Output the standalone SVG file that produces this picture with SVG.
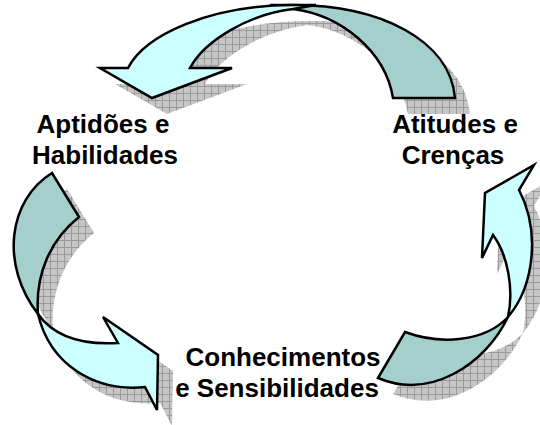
<svg xmlns="http://www.w3.org/2000/svg" width="540" height="425" viewBox="0 0 540 425">
<defs>
<pattern id="hatch" width="7" height="7" patternUnits="userSpaceOnUse">
<rect width="7" height="7" fill="#c6c6c6"/>
<path d="M0,0.5H7M0.5,0V7" stroke="#9a9a9a" stroke-width="1"/>
</pattern>
<style>
.sh{fill:url(#hatch);stroke:none}
.lb{fill:#ccffff;stroke:#000;stroke-width:2.5;stroke-linejoin:miter}
.tl{fill:#a5cfcd;stroke:#000;stroke-width:2.5;stroke-linejoin:miter}
.lbl{font-family:"Liberation Sans",Arial,sans-serif;font-weight:bold;font-size:26px;fill:#000;text-anchor:middle}
</style>
</defs>
<rect width="540" height="425" fill="#fff"/>
<g id="shadows" transform="translate(15,16)">
<path class="sh" d="M293,9 C340,15 385,50 393,98 L455,98 C450,40 380,5 293,5 Z"/>
<path class="sh" d="M316,5 L293,9 C250,14 205,40 190,68 L232,68 L152,98 L100,68 L128,68 C145,35 210,5 293,5 Z"/>
<path class="sh" d="M38,314 C0,265 8,200 52,173 L79,217 C50,240 35,275 38,314 Z"/>
<path class="sh" d="M38,314 C55,338 85,345 118,343 L103,317 L158,355 L157,410 L145,387 C95,392 50,365 38,314 Z"/>
<path class="sh" d="M405,332 C440,345 485,342 508,317 C485,365 430,400 378,378 Z"/>
<path class="sh" d="M508,317 C535,285 540,230 519,190 L534,165 L485,193 L482,258 L493,235 C508,255 514,290 508,317 Z"/>
</g>
<g id="connectors">
<g id="arrow-top">
<path class="tl" d="M293,9 C340,15 385,50 393,98 L455,98 C450,40 380,5 293,5 L270,5 Z"/>
<path class="lb" d="M316,5 L293,9 C250,14 205,40 190,68 L232,68 L152,98 L100,68 L128,68 C145,35 210,5 293,5 Z"/>
</g>
<g id="arrow-left">
<path class="tl" d="M38,314 C0,265 8,200 52,173 L79,217 C50,240 35,275 38,314 Z"/>
<path class="lb" d="M38,314 C55,338 85,345 118,343 L103,317 L158,355 L157,410 L145,387 C95,392 50,365 38,314 Z"/>
</g>
<g id="arrow-right">
<path class="tl" d="M405,332 C440,345 485,342 508,317 C485,365 430,400 378,378 Z"/>
<path class="lb" d="M508,317 C535,285 540,230 519,190 L534,165 L485,193 L482,258 L493,235 C508,255 514,290 508,317 Z"/>
</g>
</g>
<g id="node-aptidoes">
<text class="lbl" x="103" y="133">Aptidões e</text>
<text class="lbl" x="105" y="164">Habilidades</text>
</g>
<g id="node-atitudes">
<text class="lbl" x="455" y="133">Atitudes e</text>
<text class="lbl" x="453" y="164">Crenças</text>
</g>
<g id="node-conhecimentos">
<text class="lbl" x="283" y="366">Conhecimentos</text>
<text class="lbl" x="277" y="397">e Sensibilidades</text>
</g>
</svg>
